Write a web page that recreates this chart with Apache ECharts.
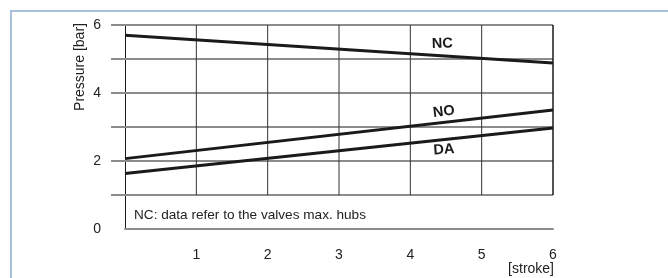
<!DOCTYPE html>
<html>
<head>
<meta charset="utf-8" />
<title>pressure</title>
<style>
  html, body { margin: 0; padding: 0; background: #fff; }
  .frame { position: absolute; left: 10px; top: 10px; width: 660px; height: 270px;
           border-left: 2px solid #a9c0dc; border-top: 2px solid #a9c0dc; }
  #chart { position: absolute; left: 0; top: 0; width: 668px; height: 278px; }
</style>
<script src="https://cdn.jsdelivr.net/npm/echarts@6/dist/echarts.min.js"></script>
</head>
<body>
<div class="frame"></div>
<div id="chart"></div>
<script>
// stroke positions (start, end) and pressure values
var stroke = [0, 6];
var ncValues = [5.7, 4.88];
var noValues = [2.07, 3.5];
var daValues = [1.63, 2.97];

// grid lines
var hGrid = [1, 2, 3, 4, 5, 6];
var vGrid = [1, 2, 3, 4, 5, 6];

// curve labels: [x, y, text, rotate in degrees]
var curveLabels = [
  [4.45, 5.45, 'NC', 2],
  [4.47, 3.45, 'NO', 7],
  [4.47, 2.33, 'DA', 4]
];

var note = 'NC: data refer to the valves max. hubs';

function pairs(vals) {
  return stroke.map(function (x, i) { return [x, vals[i]]; });
}

function lineSeries(name, vals) {
  return {
    name: name, type: 'line', data: pairs(vals), showSymbol: false, z: 5,
    lineStyle: { color: '#1a1a1a', width: 3 }, silent: true
  };
}

var chart = echarts.init(document.getElementById('chart'));
var font = '"Liberation Sans", Arial, sans-serif';

chart.setOption({
  animation: false,
  grid: { left: 125, right: 115, top: 25, bottom: 49 },
  xAxis: {
    type: 'value', min: 0, max: 6, interval: 1,
    axisLine: { show: true, lineStyle: { color: '#8c8c8c', width: 2 } },
    axisTick: { show: false },
    splitLine: { show: false },
    axisLabel: {
      margin: 19, color: '#222', fontSize: 14, fontFamily: font,
      formatter: function (v) { return v === 0 ? '' : v; }
    }
  },
  yAxis: {
    type: 'value', min: 0, max: 6, interval: 2,
    axisLine: { show: true, lineStyle: { color: '#1a1a1a', width: 1 } },
    axisTick: { show: false },
    splitLine: { show: false },
    axisLabel: { margin: 24, color: '#222', fontSize: 14, fontFamily: font }
  },
  series: [
    {
      type: 'custom', data: hGrid, z: 1, silent: true,
      renderItem: function (params, api) {
        var y = api.value(0);
        var a = api.coord([0, y]), b = api.coord([6, y]);
        return { type: 'line', shape: { x1: a[0] - 14, y1: a[1], x2: b[0], y2: b[1] },
                 style: { stroke: '#8c8c8c', lineWidth: 2 } };
      }
    },
    {
      type: 'custom', data: vGrid, z: 2, silent: true,
      renderItem: function (params, api) {
        var x = api.value(0);
        var a = api.coord([x, 1]), b = api.coord([x, 6]);
        return { type: 'line', shape: { x1: a[0], y1: a[1], x2: b[0], y2: b[1] },
                 style: { stroke: x === 6 ? '#1a1a1a' : '#333', lineWidth: x === 6 ? 1.5 : 1 } };
      }
    },
    lineSeries('NC', ncValues),
    lineSeries('NO', noValues),
    lineSeries('DA', daValues)
  ]
});

// texts: curve labels placed through the axes' scales
var texts = curveLabels.map(function (d) {
  var p = chart.convertToPixel({ gridIndex: 0 }, [d[0], d[1]]);
  return { type: 'text', x: p[0], y: p[1], rotation: d[3] * Math.PI / 180, z: 10,
    style: { text: d[2], fill: '#1a1a1a', font: 'bold 14.5px ' + font,
             align: 'center', verticalAlign: 'middle' } };
});
var end = chart.convertToPixel({ gridIndex: 0 }, [6, 0]);
texts.push(
  { type: 'text', x: 80, y: 67, rotation: Math.PI / 2,
    style: { text: 'Pressure [bar]', fill: '#222', font: '14px ' + font,
             align: 'center', verticalAlign: 'middle' } },
  { type: 'text', x: 134, y: 215,
    style: { text: note, fill: '#222', font: '13.6px ' + font,
             align: 'left', verticalAlign: 'middle' } },
  { type: 'text', x: end[0] + 1, y: end[1] + 33,
    style: { text: '[stroke]', fill: '#222', font: '14px ' + font,
             align: 'right', verticalAlign: 'top' } }
);
chart.setOption({ graphic: texts });

window.onresize = function () { chart.resize(); };
</script>
</body>
</html>
